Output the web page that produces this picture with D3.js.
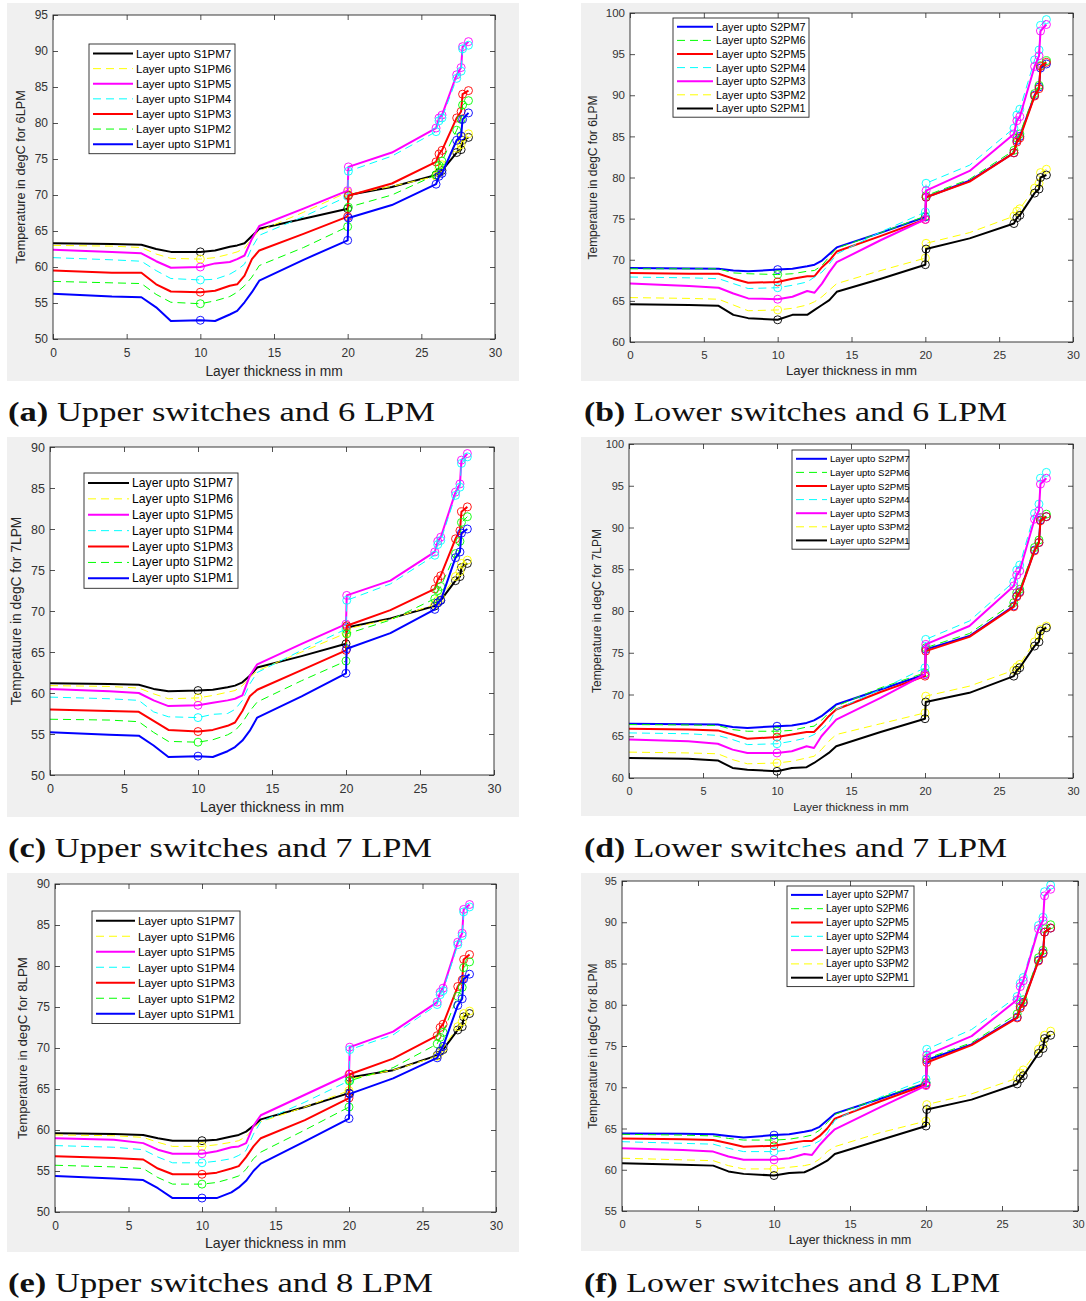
<!DOCTYPE html>
<html lang="en">
<head>
<meta charset="UTF-8">
<title>Layer temperature profiles</title>
<style>
  body { margin: 0; background: #fff; }
  svg { display: block; }
</style>
</head>
<body>
<svg id="fig" width="1086" height="1301"></svg>
<script src="https://d3js.org/d3.v7.min.js"></script>
<script>
// layer thickness positions (mm) shared by every curve
const xLayer = [0, 4, 6, 7, 8, 10, 11, 12, 12.5, 13, 13.5, 14, 17, 20, 20.05, 23, 26, 26.2, 26.4, 27.4, 27.7, 27.8, 28.2];
// points that carry a circle marker
const markerIdx = [5, 13, 14, 16, 17, 18, 19, 20, 21, 22];

const upperNames = ['Layer upto S1PM7', 'Layer upto S1PM6', 'Layer upto S1PM5', 'Layer upto S1PM4',
  'Layer upto S1PM3', 'Layer upto S1PM2', 'Layer upto S1PM1'];
const lowerNames = ['Layer upto S2PM7', 'Layer upto S2PM6', 'Layer upto S2PM5', 'Layer upto S2PM4',
  'Layer upto S2PM3', 'Layer upto S3PM2', 'Layer upto S2PM1'];

// (a) upper switches, 6 LPM
const upper6 = [
  [63.3, 63.2, 63.1, 62.5, 62.1, 62.1, 62.3, 62.8, 63.0, 63.3, 64.3, 65.3, 66.7, 68.1, 70.0, 71.1, 72.8, 73.1, 73.4, 75.9, 76.3, 77.6, 78.0],
  [63.0, 62.9, 62.7, 61.8, 61.2, 61.1, 61.3, 61.8, 62.1, 62.6, 64.0, 65.0, 67.6, 70.4, 70.1, 71.2, 72.6, 73.7, 74.2, 76.5, 77.0, 78.0, 78.5],
  [62.4, 62.1, 61.9, 60.8, 59.9, 60.0, 60.5, 60.7, 61.1, 61.6, 63.9, 65.7, 68.1, 70.6, 73.9, 75.9, 79.3, 80.7, 81.1, 86.7, 87.7, 90.6, 91.3],
  [61.3, 61.0, 60.8, 59.5, 58.4, 58.2, 58.3, 59.0, 59.6, 60.4, 62.7, 64.4, 67.0, 69.8, 73.3, 75.4, 78.8, 80.3, 80.7, 86.2, 87.2, 90.3, 90.8],
  [59.5, 59.2, 59.2, 57.6, 56.6, 56.5, 56.7, 57.4, 57.6, 58.8, 61.1, 62.3, 64.6, 67.0, 69.9, 71.6, 74.6, 75.7, 76.2, 80.7, 81.6, 84.0, 84.5],
  [58.0, 57.8, 57.7, 56.2, 55.1, 54.9, 55.3, 55.9, 56.5, 57.4, 58.6, 60.2, 62.7, 65.6, 68.3, 70.0, 72.8, 74.1, 74.7, 79.0, 80.5, 82.5, 83.1],
  [56.3, 55.9, 55.8, 54.4, 52.5, 52.6, 52.5, 53.4, 53.9, 55.1, 56.5, 58.1, 61.0, 63.7, 66.8, 68.6, 71.5, 72.6, 73.0, 77.6, 78.2, 80.5, 81.4]
];
// (b) lower switches, 6 LPM
const lower6 = [
  [69.0, 68.95, 68.9, 68.7, 68.6, 68.8, 68.9, 69.2, 69.4, 69.9, 70.7, 71.5, 73.3, 75.2, 77.6, 79.6, 83.0, 84.5, 85.0, 90.0, 91.0, 93.3, 93.8],
  [68.9, 68.9, 68.9, 68.4, 68.3, 68.2, 68.3, 68.6, 68.7, 69.3, 70.4, 71.4, 73.3, 75.3, 77.8, 79.8, 83.3, 84.8, 85.3, 90.2, 91.2, 93.6, 94.2],
  [68.4, 68.3, 68.3, 67.7, 67.2, 67.3, 67.7, 68.0, 68.0, 69.1, 69.9, 71.0, 72.9, 74.9, 77.6, 79.5, 83.0, 84.3, 84.8, 89.9, 90.8, 93.5, 94.0],
  [67.9, 67.8, 67.7, 67.1, 66.5, 66.6, 66.9, 67.3, 67.9, 68.5, 69.5, 70.7, 73.4, 75.8, 79.3, 81.5, 86.0, 87.6, 88.3, 94.3, 95.5, 98.5, 99.2],
  [67.1, 66.8, 66.6, 65.9, 65.3, 65.2, 65.5, 66.2, 66.0, 67.1, 68.5, 69.7, 72.4, 74.9, 78.4, 80.8, 85.3, 86.9, 87.4, 93.5, 94.8, 97.8, 98.6],
  [65.4, 65.3, 65.2, 64.5, 63.8, 63.9, 64.1, 64.5, 64.9, 65.5, 66.3, 67.1, 68.7, 70.2, 72.0, 73.3, 75.3, 75.9, 76.2, 78.7, 79.3, 80.6, 81.0],
  [64.6, 64.5, 64.4, 63.3, 62.9, 62.7, 63.3, 63.3, 63.9, 64.5, 65.1, 66.1, 67.7, 69.4, 71.3, 72.6, 74.4, 75.1, 75.4, 78.1, 78.6, 80.0, 80.3]
];
// (c) upper switches, 7 LPM
const upper7 = [
  [61.2, 61.1, 61.0, 60.5, 60.2, 60.3, 60.4, 60.7, 60.9, 61.3, 62.1, 63.1, 64.5, 66.0, 68.0, 69.1, 70.6, 71.0, 71.3, 73.7, 74.2, 75.3, 75.8],
  [60.9, 60.8, 60.6, 59.9, 59.3, 59.4, 59.7, 60.1, 60.3, 60.9, 61.9, 62.7, 65.0, 67.3, 67.8, 69.0, 70.8, 71.3, 71.6, 74.2, 74.8, 75.8, 76.2],
  [60.5, 60.2, 60.0, 59.1, 58.4, 58.5, 58.8, 59.1, 59.3, 59.7, 62.1, 63.5, 66.0, 68.4, 71.9, 73.7, 77.2, 78.5, 79.0, 84.5, 85.5, 88.4, 89.2],
  [59.5, 59.3, 59.1, 57.7, 57.1, 57.0, 57.4, 57.5, 58.0, 59.1, 61.1, 62.5, 65.2, 67.8, 71.3, 73.3, 76.8, 78.1, 78.6, 84.1, 85.1, 88.0, 88.8],
  [58.0, 57.8, 57.7, 56.6, 55.5, 55.3, 55.5, 56.0, 56.4, 57.8, 59.6, 60.4, 62.8, 65.2, 68.2, 70.1, 72.7, 73.8, 74.3, 78.8, 79.8, 82.1, 82.7],
  [56.8, 56.7, 56.5, 55.2, 54.1, 54.0, 54.3, 54.9, 55.4, 56.4, 57.8, 58.9, 61.5, 63.9, 67.2, 68.9, 71.5, 72.5, 73.0, 77.0, 78.5, 80.8, 81.5],
  [55.2, 54.9, 54.8, 53.6, 52.2, 52.3, 52.2, 52.9, 53.4, 54.2, 55.4, 57.0, 59.6, 62.4, 65.4, 67.3, 70.2, 71.0, 71.3, 76.5, 77.2, 79.5, 80.0]
];
// (d) lower switches, 7 LPM
const lower7 = [
  [66.5, 66.45, 66.4, 66.1, 66.0, 66.2, 66.3, 66.6, 66.9, 67.4, 68.1, 68.8, 70.6, 72.4, 75.4, 77.0, 80.6, 81.8, 82.3, 87.3, 88.2, 90.9, 91.3],
  [66.4, 66.35, 66.3, 65.8, 65.6, 65.6, 65.7, 66.1, 66.2, 66.9, 67.8, 68.6, 70.8, 72.6, 75.6, 77.3, 81.0, 82.2, 82.6, 87.6, 88.5, 91.2, 91.6],
  [65.9, 65.8, 65.7, 65.2, 64.7, 64.9, 65.2, 65.5, 65.5, 66.4, 67.4, 68.2, 70.3, 72.2, 75.2, 76.9, 80.5, 81.7, 82.2, 87.2, 88.2, 90.8, 91.3],
  [65.4, 65.3, 65.1, 64.6, 64.0, 64.1, 64.4, 64.8, 65.2, 65.8, 66.6, 68.2, 70.6, 73.2, 76.6, 78.8, 83.5, 84.9, 85.5, 91.7, 92.8, 95.9, 96.6],
  [64.6, 64.4, 64.1, 63.4, 63.0, 63.0, 63.2, 63.8, 63.6, 65.0, 66.0, 67.0, 69.6, 72.4, 76.0, 78.2, 83.0, 84.3, 84.8, 91.0, 92.0, 95.2, 95.9],
  [63.1, 63.0, 62.9, 62.2, 61.7, 61.8, 62.0, 62.4, 62.6, 63.4, 64.4, 65.2, 66.5, 67.8, 69.8, 71.0, 72.9, 73.3, 73.6, 76.3, 77.0, 77.8, 78.2],
  [62.4, 62.3, 62.1, 61.2, 61.0, 60.8, 61.2, 61.3, 61.8, 62.4, 63.0, 63.8, 65.5, 67.1, 69.1, 70.2, 72.2, 72.9, 73.2, 75.8, 76.3, 77.6, 78.0]
];
// (e) upper switches, 8 LPM
const upper8 = [
  [59.6, 59.5, 59.4, 59.0, 58.7, 58.7, 58.8, 59.2, 59.4, 59.8, 60.5, 61.3, 62.8, 64.5, 66.4, 67.3, 69.1, 69.6, 69.8, 72.2, 72.6, 73.8, 74.2],
  [59.4, 59.3, 59.1, 58.5, 58.0, 58.0, 58.2, 58.5, 58.7, 59.2, 60.2, 61.0, 62.8, 64.8, 66.2, 67.3, 69.0, 69.5, 70.0, 72.6, 73.2, 74.2, 74.5],
  [59.0, 58.8, 58.4, 57.6, 57.1, 57.1, 57.4, 57.9, 58.0, 58.4, 60.5, 61.8, 64.3, 66.8, 70.1, 72.0, 75.6, 76.8, 77.3, 82.9, 84.0, 86.9, 87.5],
  [58.1, 57.9, 57.6, 56.7, 56.0, 56.0, 56.2, 56.5, 56.9, 57.5, 59.5, 61.0, 63.4, 66.0, 69.8, 71.6, 75.3, 76.5, 77.0, 82.6, 83.7, 86.6, 87.2],
  [56.8, 56.6, 56.4, 55.3, 54.6, 54.6, 54.8, 55.3, 55.6, 56.7, 58.0, 59.0, 61.2, 63.9, 66.8, 68.7, 71.5, 72.5, 72.9, 77.5, 78.3, 80.8, 81.4],
  [55.7, 55.5, 55.3, 54.2, 53.4, 53.4, 53.6, 54.1, 54.4, 55.2, 56.5, 57.3, 60.0, 62.8, 66.0, 67.6, 70.5, 71.3, 71.9, 76.3, 77.4, 79.8, 80.5],
  [54.4, 54.1, 53.9, 52.9, 51.7, 51.7, 51.7, 52.4, 53.0, 53.8, 55.0, 55.9, 58.6, 61.4, 64.4, 66.3, 68.8, 69.6, 70.2, 75.2, 76.0, 78.4, 79.0]
];
// (f) lower switches, 8 LPM
const lower8 = [
  [64.4, 64.35, 64.3, 64.1, 63.9, 64.2, 64.3, 64.6, 64.8, 65.2, 66.0, 66.8, 68.6, 70.5, 73.3, 75.2, 78.5, 79.8, 80.3, 85.4, 86.3, 88.8, 89.3],
  [64.3, 64.2, 64.1, 63.8, 63.6, 63.6, 63.7, 64.0, 64.2, 64.8, 65.7, 66.7, 68.7, 70.6, 73.5, 75.4, 78.9, 80.1, 80.6, 85.7, 86.6, 89.2, 89.7],
  [63.8, 63.7, 63.6, 63.2, 62.8, 62.9, 63.2, 63.5, 63.5, 64.1, 65.0, 66.2, 68.3, 70.3, 73.0, 75.1, 78.4, 79.6, 80.2, 85.3, 86.2, 88.8, 89.3],
  [63.4, 63.2, 63.1, 62.6, 62.2, 62.2, 62.4, 62.8, 63.0, 63.5, 64.4, 66.0, 68.8, 71.0, 74.6, 77.0, 81.0, 82.6, 83.3, 89.6, 90.6, 93.7, 94.5],
  [62.6, 62.4, 62.2, 61.6, 61.2, 61.2, 61.4, 61.9, 61.8, 63.0, 64.0, 64.9, 67.6, 70.2, 73.9, 76.2, 80.6, 82.2, 82.9, 89.2, 90.2, 93.2, 94.0],
  [61.4, 61.2, 61.1, 60.5, 60.1, 60.1, 60.3, 60.5, 60.7, 61.3, 62.2, 62.8, 64.5, 65.9, 67.9, 69.2, 71.1, 71.7, 72.1, 74.6, 75.2, 76.3, 76.8],
  [60.8, 60.6, 60.5, 59.8, 59.5, 59.3, 59.6, 59.7, 60.1, 60.6, 61.1, 61.9, 63.6, 65.3, 67.3, 68.5, 70.4, 71.0, 71.4, 74.1, 74.7, 75.9, 76.3]
];

// line styles (order follows the legends)
const upperColors = ['#000000', '#ffff00', '#ff00ff', '#00ffff', '#ff0000', '#00ff00', '#0000ff'];
const lowerColors = ['#0000ff', '#00ff00', '#ff0000', '#00ffff', '#ff00ff', '#ffff00', '#000000'];
const dashed = [false, true, false, true, false, true, false];

const panels = [
  { letter: 'a', caption: 'Upper switches and 6 LPM', lpm: '6LPM', data: upper6, names: upperNames, colors: upperColors,
    bg: [7, 3, 519, 381], plot: [53, 15, 495, 339], yDom: [50, 95],
    tickFs: 12, xlFs: 13.8, ylFs: 12.7, xlY: 371, ylX: 21,
    leg: [89, 44, 146, 15.1], legFs: 11.5, legLine: 40, cap: [8, 421, 427] },
  { letter: 'b', caption: 'Lower switches and 6 LPM', lpm: '6LPM', data: lower6, names: lowerNames, colors: lowerColors,
    bg: [581, 3, 1086, 381], plot: [630, 13, 1073, 342], yDom: [60, 100],
    tickFs: 11.5, xlFs: 13.2, ylFs: 12, xlY: 370, ylX: 593,
    leg: [673, 18, 136, 13.6], legFs: 10.8, legLine: 36, cap: [584, 421, 423] },
  { letter: 'c', caption: 'Upper switches and 7 LPM', lpm: '7LPM', data: upper7, names: upperNames, colors: upperColors,
    bg: [7, 437, 519, 817], plot: [50, 447, 494, 775], yDom: [50, 90],
    tickFs: 12.5, xlFs: 14.5, ylFs: 13.8, xlY: 807, ylX: 16,
    leg: [84, 473, 154, 15.9], legFs: 12.2, legLine: 41, cap: [8, 857, 424] },
  { letter: 'd', caption: 'Lower switches and 7 LPM', lpm: '7LPM', data: lower7, names: lowerNames, colors: lowerColors,
    bg: [581, 437, 1086, 816], plot: [629, 444, 1073, 778], yDom: [60, 100],
    tickFs: 11, xlFs: 11.6, ylFs: 12, xlY: 806, ylX: 597,
    leg: [792, 450, 117, 13.6], legFs: 9.6, legLine: 31, cap: [584, 857, 423] },
  { letter: 'e', caption: 'Upper switches and 8 LPM', lpm: '8LPM', data: upper8, names: upperNames, colors: upperColors,
    bg: [7, 873, 519, 1252], plot: [55, 884, 496, 1212], yDom: [50, 90],
    tickFs: 12, xlFs: 14.2, ylFs: 13.3, xlY: 1243, ylX: 22,
    leg: [92, 911, 148, 15.5], legFs: 11.7, legLine: 39, cap: [8, 1292, 425] },
  { letter: 'f', caption: 'Lower switches and 8 LPM', lpm: '8LPM', data: lower8, names: lowerNames, colors: lowerColors,
    bg: [581, 873, 1086, 1251], plot: [622, 881, 1078, 1211], yDom: [55, 95],
    tickFs: 11, xlFs: 12.3, ylFs: 12.1, xlY: 1240, ylX: 593,
    leg: [787, 886, 127, 13.8], legFs: 10, legLine: 32, cap: [584, 1292, 416] }
];

const svg = d3.select('#fig');
const sans = "'Liberation Sans', Arial, sans-serif";
const axisCol = '#262626';

panels.forEach(p => {
  const g = svg.append('g');

  // figure background and axes area
  g.append('rect')
    .attr('x', p.bg[0]).attr('y', p.bg[1])
    .attr('width', p.bg[2] - p.bg[0]).attr('height', p.bg[3] - p.bg[1])
    .attr('fill', '#f0f0f0');
  g.append('rect')
    .attr('x', p.plot[0]).attr('y', p.plot[1])
    .attr('width', p.plot[2] - p.plot[0]).attr('height', p.plot[3] - p.plot[1])
    .attr('fill', '#fff');

  const x = d3.scaleLinear().domain([0, 30]).range([p.plot[0], p.plot[2]]);
  const y = d3.scaleLinear().domain(p.yDom).range([p.plot[3], p.plot[1]]);
  const yTicks = d3.range(p.yDom[0], p.yDom[1] + 0.1, 5);
  const xTicks = d3.range(0, 31, 5);

  const styleAxis = (sel, labels) => {
    sel.select('.domain').remove();
    sel.selectAll('.tick line').attr('stroke', axisCol).attr('stroke-width', 0.8);
    sel.selectAll('.tick text')
      .attr('fill', labels ? '#333' : 'none')
      .attr('font-family', sans).attr('font-size', p.tickFs);
  };

  g.append('g').attr('transform', `translate(0,${p.plot[3]})`)
    .call(d3.axisBottom(x).tickValues(xTicks).tickSize(-5).tickSizeOuter(0).tickPadding(9))
    .call(s => styleAxis(s, true));
  g.append('g').attr('transform', `translate(0,${p.plot[1]})`)
    .call(d3.axisTop(x).tickValues(xTicks).tickSize(-5).tickSizeOuter(0).tickFormat(''))
    .call(s => styleAxis(s, false));
  g.append('g').attr('transform', `translate(${p.plot[0]},0)`)
    .call(d3.axisLeft(y).tickValues(yTicks).tickSize(-5).tickSizeOuter(0).tickPadding(5))
    .call(s => styleAxis(s, true));
  g.append('g').attr('transform', `translate(${p.plot[2]},0)`)
    .call(d3.axisRight(y).tickValues(yTicks).tickSize(-5).tickSizeOuter(0).tickFormat(''))
    .call(s => styleAxis(s, false));

  // curves
  const line = d3.line().x((d, i) => x(xLayer[i])).y(d => y(d));
  p.data.forEach((vals, k) => {
    g.append('path')
      .attr('d', line(vals))
      .attr('fill', 'none')
      .attr('stroke', p.colors[k])
      .attr('stroke-width', dashed[k] ? 1 : 2)
      .attr('stroke-dasharray', dashed[k] ? '8,5' : null)
      .attr('stroke-linejoin', 'round');
    g.selectAll(null)
      .data(markerIdx)
      .join('circle')
      .attr('cx', i => x(xLayer[i]))
      .attr('cy', i => y(vals[i]))
      .attr('r', 4)
      .attr('fill', 'none')
      .attr('stroke', p.colors[k])
      .attr('stroke-width', 0.9);
  });

  // axes box
  g.append('rect')
    .attr('x', p.plot[0]).attr('y', p.plot[1])
    .attr('width', p.plot[2] - p.plot[0]).attr('height', p.plot[3] - p.plot[1])
    .attr('fill', 'none').attr('stroke', axisCol).attr('stroke-width', 0.9);

  // axis labels
  g.append('text')
    .attr('x', (p.plot[0] + p.plot[2]) / 2).attr('y', p.xlY)
    .attr('text-anchor', 'middle').attr('dominant-baseline', 'central')
    .attr('font-family', sans).attr('font-size', p.xlFs).attr('fill', '#262626')
    .text('Layer thickness in mm');
  const cy = (p.plot[1] + p.plot[3]) / 2;
  g.append('text')
    .attr('transform', `translate(${p.ylX},${cy}) rotate(-90)`)
    .attr('text-anchor', 'middle').attr('dominant-baseline', 'central')
    .attr('font-family', sans).attr('font-size', p.ylFs).attr('fill', '#262626')
    .text('Temperature in degC for ' + p.lpm);

  // legend
  const [lx, ly, lw, row] = p.leg;
  g.append('rect')
    .attr('x', lx).attr('y', ly).attr('width', lw).attr('height', row * 7 + 4)
    .attr('fill', '#fff').attr('stroke', axisCol).attr('stroke-width', 0.9);
  p.names.forEach((name, k) => {
    const ry = ly + 2 + row * (k + 0.5);
    g.append('line')
      .attr('x1', lx + 4).attr('x2', lx + 4 + p.legLine)
      .attr('y1', ry).attr('y2', ry)
      .attr('stroke', p.colors[k])
      .attr('stroke-width', dashed[k] ? 1 : 2)
      .attr('stroke-dasharray', dashed[k] ? '8,5' : null);
    g.append('text')
      .attr('x', lx + p.legLine + 7).attr('y', ry)
      .attr('dominant-baseline', 'central')
      .attr('font-family', sans).attr('font-size', p.legFs).attr('fill', '#000')
      .text(name);
  });

  // sub-figure caption
  const cap = svg.append('text')
    .attr('x', p.cap[0]).attr('y', p.cap[1])
    .attr('font-family', "'Liberation Serif', 'DejaVu Serif', serif")
    .attr('font-size', 28).attr('fill', '#111')
    .attr('textLength', p.cap[2]).attr('lengthAdjust', 'spacingAndGlyphs');
  cap.append('tspan').attr('font-weight', 'bold').text(`(${p.letter})`);
  cap.append('tspan').text(' ' + p.caption);
});
</script>
</body>
</html>
